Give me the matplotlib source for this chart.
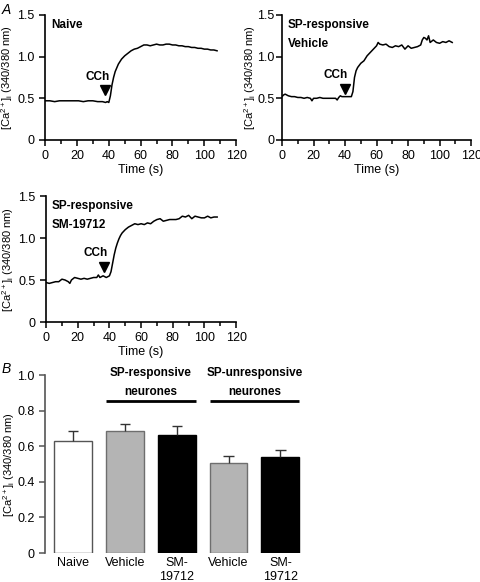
import matplotlib
matplotlib.use("Agg")
import matplotlib.pyplot as plt
from matplotlib.ticker import MultipleLocator

plt.rcParams['font.family'] = ['Liberation Sans', 'DejaVu Sans']
plt.rcParams['font.size'] = 8
plt.rcParams['mathtext.fontset'] = 'custom'
plt.rcParams['mathtext.rm'] = 'Liberation Sans'
plt.rcParams['mathtext.it'] = 'Liberation Sans:italic'

# Panel A traces
naive_t = [0, 3, 6, 9, 12, 15, 18, 21, 24, 27, 30, 33, 36, 38, 39, 40, 41, 42, 43, 44,
           46, 48, 50, 52, 54, 56, 58, 60, 62, 64, 66, 68, 70, 72, 74, 76, 78, 80, 82, 84,
           86, 88, 90, 92, 94, 96, 98, 100, 102, 104, 106, 108]
naive_y = [0.47, 0.47, 0.46, 0.47, 0.47, 0.47, 0.47, 0.47, 0.46, 0.47, 0.47, 0.46, 0.46,
           0.45, 0.46, 0.45, 0.53, 0.66, 0.75, 0.82,
           0.91, 0.97, 1.01, 1.04, 1.07, 1.09, 1.10, 1.12, 1.14, 1.14,
           1.13, 1.14, 1.15, 1.14, 1.14, 1.15, 1.15, 1.14, 1.14, 1.13,
           1.13, 1.12, 1.12, 1.11, 1.11, 1.10, 1.10, 1.09, 1.09, 1.08,
           1.08, 1.07]

vehicle_t = [0, 1, 2, 3, 4, 6, 8, 10, 12, 14, 16, 18, 19, 20, 22, 24, 26, 28, 30, 32, 34,
             35, 36, 37, 38, 40, 42, 44, 45, 46, 47, 48, 50, 52, 54, 56, 58, 60, 61, 62,
             64, 66, 68, 70, 72, 74, 76, 78, 80, 82, 84, 86, 88, 89, 90, 91, 92, 93, 94,
             96, 98, 100, 102, 104, 106, 108]
vehicle_y = [0.52, 0.54, 0.55, 0.54, 0.53, 0.52, 0.52, 0.51, 0.51, 0.50, 0.51, 0.50,
             0.47, 0.50, 0.50, 0.51, 0.50, 0.50, 0.50, 0.50, 0.50,
             0.48, 0.51, 0.53, 0.52, 0.52, 0.52, 0.52, 0.58, 0.75, 0.83, 0.87,
             0.92, 0.95, 1.01, 1.05, 1.09, 1.13, 1.17, 1.15,
             1.14, 1.15, 1.12, 1.11, 1.13, 1.12, 1.14, 1.09, 1.13, 1.10, 1.11, 1.12, 1.14,
             1.20, 1.23, 1.22, 1.20, 1.25, 1.17,
             1.20, 1.17, 1.16, 1.18, 1.17, 1.19, 1.17]

sm_t = [0, 2, 4, 6, 8, 10, 12, 14, 15, 16, 18, 20, 22, 24, 26, 28, 30, 32, 33, 34, 36, 38,
        40, 41, 42, 43, 44, 45, 46, 47, 48, 50, 52, 54, 56, 58, 60, 62, 64, 66, 68, 70, 72,
        74, 76, 78, 80, 82, 84, 86, 88, 90, 92, 94, 96, 98, 100, 102, 104, 106, 108]
sm_y = [0.47, 0.46, 0.47, 0.48, 0.48, 0.51, 0.50, 0.48, 0.46, 0.50, 0.53,
        0.52, 0.51, 0.52, 0.51, 0.52, 0.53, 0.53, 0.56, 0.53, 0.55, 0.53, 0.55,
        0.60, 0.70, 0.80, 0.88, 0.94, 0.99, 1.03, 1.06,
        1.10, 1.13, 1.15, 1.17, 1.16, 1.17, 1.16, 1.18, 1.17, 1.20,
        1.22, 1.23, 1.20, 1.21, 1.22, 1.22, 1.22, 1.23, 1.26, 1.25,
        1.27, 1.23, 1.26, 1.25, 1.24, 1.24, 1.26, 1.24, 1.25, 1.25]

# Panel B bars
bar_labels = ['Naive', 'Vehicle', 'SM-\n19712', 'Vehicle', 'SM-\n19712']
bar_means = [0.632, 0.684, 0.665, 0.503, 0.540]
bar_sem = [0.056, 0.043, 0.051, 0.041, 0.039]
bar_colors = ['white', '#b4b4b4', 'black', '#b4b4b4', 'black']
bar_edges = ['#555555', '#6e6e6e', 'black', '#6e6e6e', 'black']

ylabel = r'[Ca$^{2+}$]$_{\rm i}$ (340/380 nm)'

fig = plt.figure(figsize=(4.8, 5.82), dpi=100)


def trace_panel(rect, t, y, title, cch_text, cch_arrow, label_x, ypad=3.5):
    ax = fig.add_axes(rect)
    ax.plot(t, y, color='black', lw=1.1)
    ax.set_xlim(0, 120)
    ax.set_ylim(0, 1.5)
    ax.xaxis.set_major_locator(MultipleLocator(20))
    ax.xaxis.set_minor_locator(MultipleLocator(10))
    ax.set_yticks([0, 0.5, 1.0, 1.5])
    ax.set_yticklabels(['0', '0.5', '1.0', '1.5'])
    for s in ['top', 'right']:
        ax.spines[s].set_visible(False)
    for s in ['left', 'bottom']:
        ax.spines[s].set_linewidth(1.2)
    ax.tick_params(which='major', direction='out', length=4, width=1.1, labelsize=9)
    ax.tick_params(which='minor', direction='out', length=3, width=1.1)
    ax.tick_params(axis='y', pad=ypad)
    ax.set_xlabel('Time (s)', fontsize=9, labelpad=1)
    ax.set_ylabel(ylabel, fontsize=8, va='center')
    ax.yaxis.set_label_coords(label_x, 0.5)
    ax.text(3.8, 1.45, title, fontweight='bold', fontsize=8.5, va='top', ha='left',
            linespacing=1.75)
    ax.text(cch_text[0], cch_text[1], 'CCh', fontweight='bold', fontsize=8.5,
            ha='center', va='center')
    ax.plot([cch_arrow[0]], [cch_arrow[1]], marker='v', color='black', ms=6.5)
    return ax


trace_panel([0.094, 0.7595, 0.398, 0.2148], naive_t, naive_y, 'Naive',
            (33.0, 0.76), (37.5, 0.60), -0.197)
trace_panel([0.5875, 0.7595, 0.394, 0.2148], vehicle_t, vehicle_y,
            'SP-responsive\nVehicle', (33.8, 0.78), (40.2, 0.61), -0.167, ypad=1.5)
trace_panel([0.096, 0.4467, 0.396, 0.2165], sm_t, sm_y,
            'SP-responsive\nSM-19712', (31.5, 0.82), (36.6, 0.65), -0.2)

# Panel B
axb = fig.add_axes([0.094, 0.0498, 0.544, 0.3058])
x = list(range(len(bar_means)))
axb.bar(x, bar_means, width=0.73, color=bar_colors, edgecolor=bar_edges, linewidth=1.0,
        zorder=2)
for xi, m, e in zip(x, bar_means, bar_sem):
    axb.vlines(xi, m, m + e, color='#333333', lw=1.0, zorder=3)
    axb.hlines(m + e, xi - 0.1, xi + 0.1, color='#333333', lw=1.0, zorder=3)
axb.set_xlim(-0.54, 4.5)
axb.set_ylim(0, 1.0)
axb.set_yticks([0, 0.2, 0.4, 0.6, 0.8, 1.0])
axb.set_yticklabels(['0', '0.2', '0.4', '0.6', '0.8', '1.0'])
axb.set_xticks(x)
axb.set_xticklabels(bar_labels, fontsize=9, va='top', linespacing=1.2)
axb.tick_params(axis='x', length=0, pad=3)
axb.tick_params(axis='y', direction='out', length=4, width=1.1, labelsize=9,
                color='#555555')
for s in ['top', 'right', 'bottom']:
    axb.spines[s].set_visible(False)
axb.spines['left'].set_color('#555555')
axb.spines['left'].set_linewidth(1.2)
axb.set_ylabel(ylabel, fontsize=8, va='center')
axb.yaxis.set_label_coords(-0.137, 0.5)

for left, right, txt in [(0.635, 2.365, 'SP-responsive\nneurones'),
                         (2.635, 4.365, 'SP-unresponsive\nneurones')]:
    axb.plot([left, right], [0.856, 0.856], color='black', lw=2, clip_on=False,
             solid_capstyle='butt')
    axb.text((left + right) / 2, 0.958, txt, fontweight='bold', fontsize=8.5,
             ha='center', va='center', linespacing=1.75, clip_on=False)

fig.text(0.004, 0.995, 'A', fontstyle='italic', fontsize=10, va='top', ha='left')
fig.text(0.004, 0.378, 'B', fontstyle='italic', fontsize=10, va='top', ha='left')

fig.savefig('out.png', dpi=100)
